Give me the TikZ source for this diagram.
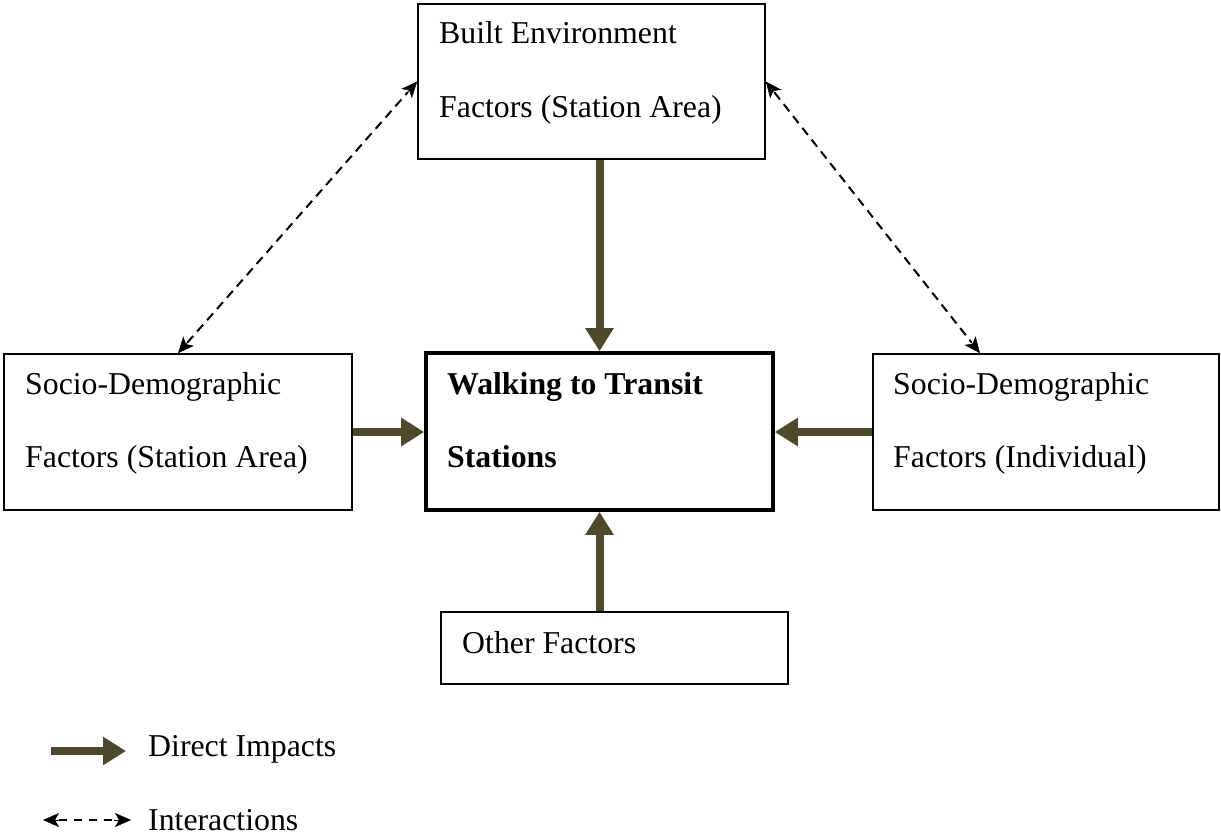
\documentclass[tikz,border=0pt]{standalone}
\usepackage{fontspec}
\setmainfont{Liberation Serif}
\usetikzlibrary{arrows.meta,calc}
\definecolor{olive}{RGB}{78,72,44}
\tikzset{
  box/.style={draw=black, line width=1.6pt, minimum width=#1, inner sep=0pt, fill=white},
  mainbox/.style={draw=black, line width=3.6pt, inner sep=0pt},
  lbl/.style={anchor=base west, inner sep=0pt, font=\fontsize{31.8pt}{38pt}\selectfont},
  impact/.style={draw=olive, line width=8pt, -{Triangle[width=27pt,length=23pt]}},
  interact/.style={draw=black, line width=2pt, dash pattern=on 9pt off 6pt},
  dhead/.style={draw=black, fill=black, line width=0.5pt, solid, -{Stealth[width=14pt,length=16pt,inset=4pt]}}
}
\begin{document}
\begin{tikzpicture}[x=1pt,y=-1pt]
\useasboundingbox (0,0) rectangle (1221,838);
% boxes
\node[box=347pt, minimum height=155pt] (top) at (591.5,81.5) {};
\node[box=348pt, minimum height=156pt] (left) at (178,432) {};
\node[mainbox, minimum width=347pt, minimum height=157pt] (cen) at (599.5,431.5) {};
\node[box=346pt, minimum height=156pt] (right) at (1046,432) {};
\node[box=347pt, minimum height=72pt] (bot) at (614.5,648) {};
% texts
\node[lbl] (t1) at (439,43) {Built Environment};
\node[lbl] (t2) at (439,117) {Factors (Station Area)};
\node[lbl] (l1) at (25,394) {Socio-Demographic};
\node[lbl] (l2) at (25,467) {Factors (Station Area)};
\node[lbl] (c1) at (447,394) {\bfseries Walking to Transit};
\node[lbl] (c2) at (447,467) {\bfseries Stations};
\node[lbl] (r1) at (893,394) {Socio-Demographic};
\node[lbl] (r2) at (893,467) {Factors (Individual)};
\node[lbl] (b1) at (462,653) {Other Factors};
% direct impacts
\draw[impact] (top.south -| cen.north) -- (cen.north);
\draw[impact] (bot.north -| cen.south) -- (cen.south);
\draw[impact] (left.east) -- (left.east -| cen.west);
\draw[impact] (right.west) -- (right.west -| cen.east);
% interactions
\coordinate (rtop) at ($(right.north west)!0.31!(right.north east)$);
\draw[interact] ($(left.north)!14pt!(top.west)$) -- ($(top.west)!14pt!(left.north)$);
\draw[interact] ($(top.east)!14pt!(rtop)$) -- ($(rtop)!14pt!(top.east)$);
\draw[dhead] ($(left.north)!17pt!(top.west)$) -- (left.north);
\draw[dhead] ($(top.west)!17pt!(left.north)$) -- (top.west);
\draw[dhead] ($(top.east)!17pt!(rtop)$) -- (top.east);
\draw[dhead] ($(rtop)!17pt!(top.east)$) -- (rtop);
% legend
\coordinate (la1) at (51,751);
\coordinate (la2) at (126,751);
\draw[impact] (la1) -- (la2);
\node[lbl] (lt1) at (148,756) {Direct Impacts};
\coordinate (lb1) at (43,820);
\coordinate (lb2) at (131,820);
\draw[interact, dash pattern=on 8pt off 7pt] ($(lb1)!16pt!(lb2)$) -- ($(lb2)!14pt!(lb1)$);
\draw[dhead] ($(lb1)!17pt!(lb2)$) -- (lb1);
\draw[dhead] ($(lb2)!17pt!(lb1)$) -- (lb2);
\node[lbl] (lt2) at (148,830) {Interactions};
\end{tikzpicture}
\end{document}
